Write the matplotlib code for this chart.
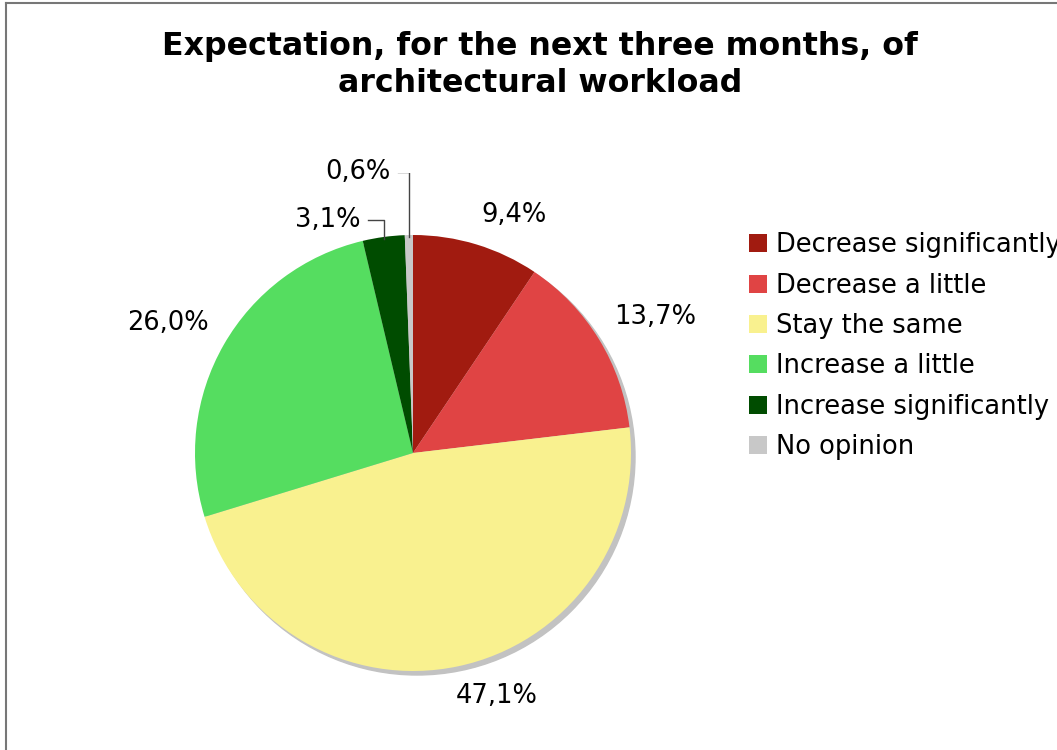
import numpy as np
import matplotlib

matplotlib.use("Agg")
import matplotlib.pyplot as plt
from matplotlib.patches import Circle, Patch
from matplotlib.lines import Line2D

# data
categories = ["Decrease significantly", "Decrease a little", "Stay the same",
              "Increase a little", "Increase significantly", "No opinion"]
shares = [9.4, 13.7, 47.1, 26.0, 3.1, 0.6]
labels = ["9,4%", "13,7%", "47,1%", "26,0%", "3,1%", "0,6%"]
colors = ["#a11b10", "#e04444", "#f9f18f", "#55dd60", "#004c00", "#c8c8c8"]
title = "Expectation, for the next three months, of\narchitectural workload"

W, H = 1057, 750
CX, CY, R = 413, 453, 218   # pie centre / radius in pixels
HALF = 280

fig = plt.figure(figsize=(W / 100, H / 100), dpi=100)
fig.patch.set_facecolor("white")

# outer frame (only left and top edges visible in the source)
fig.add_artist(Line2D([6 / W, 6 / W], [0, 1 - 3 / H], color="#777777", lw=1.5))
fig.add_artist(Line2D([6 / W, 1], [1 - 3 / H, 1 - 3 / H], color="#777777", lw=1.5))

fig.text(540 / W, 1 - 65 / H, title, ha="center", va="center",
         fontsize=22.8, fontweight="bold", linespacing=1.25)

ax = fig.add_axes([(CX - HALF) / W, (H - CY - HALF) / H, 2 * HALF / W, 2 * HALF / H])
ax.set_axis_off()

# drop shadow
px = 1.0 / R
ax.add_patch(Circle((4 * px, -4 * px), 1.0, color="#c2c2c2", zorder=0))

wedges, _ = ax.pie(shares, colors=colors, startangle=90, counterclock=False,
                   radius=1.0, wedgeprops=dict(linewidth=0))
ax.set_xlim(-HALF / R, HALF / R)
ax.set_ylim(-HALF / R, HALF / R)

for i, (w, lab) in enumerate(zip(wedges, labels)):
    ang = np.deg2rad((w.theta1 + w.theta2) / 2)
    ex, ey = np.cos(ang), np.sin(ang)
    if shares[i] < 5:
        # small slices: elbow leader line to a label on the left
        rise = 63 if i == len(shares) - 1 else 17
        run = 11 if i == len(shares) - 1 else 16
        ky = ey + rise * px
        ax.plot([ex, ex, ex - run * px], [ey - 2 * px, ky, ky], color="#444444", lw=1)
        ax.text(ex - (run + 7) * px, ky, lab, ha="right", va="center", fontsize=18.5)
    else:
        lx, ly = 1.08 * ex, 1.08 * ey
        ax.text(lx - (6 * px if ey < 0 else 0), ly, lab, ha="left" if ex > 0 else "right",
                va="bottom" if ey > 0 else "top", fontsize=18.5)

handles = [Patch(facecolor=c, edgecolor="none") for c in colors]
fig.legend(handles, categories, loc="upper left", bbox_to_anchor=(739 / W, 1 - 222 / H),
           frameon=False, fontsize=18.5, handlelength=0.7, handleheight=0.7,
           handletextpad=0.35, labelspacing=0.56, borderaxespad=0)

fig.savefig("out.png", dpi=100)
